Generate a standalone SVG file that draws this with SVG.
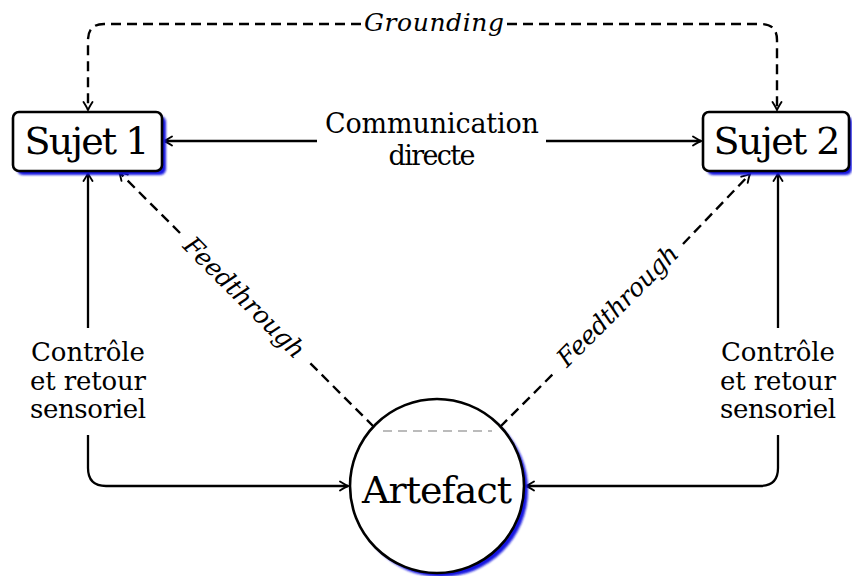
<svg xmlns="http://www.w3.org/2000/svg" width="852" height="576" viewBox="0 0 852 576">
<style>
text{font-family:"DejaVu Serif","Liberation Serif",serif;fill:#000}
.big{font-size:38px}
.mid{font-size:27px}
.sm{font-size:26px}
.it{font-size:25px;font-style:italic}
.ln{fill:none;stroke:#000;stroke-width:2.3}
.dash{fill:none;stroke:#000;stroke-width:2.4;stroke-dasharray:10 6}
.box{fill:#fff;stroke:#000;stroke-width:2.6}
.shadow{fill:#1515e0;filter:url(#blur)}
</style>
<defs>
<filter id="blur" x="-20%" y="-20%" width="140%" height="140%"><feGaussianBlur stdDeviation="1.1"/></filter>
<marker id="arr" markerUnits="userSpaceOnUse" orient="auto" refX="0" refY="0" markerWidth="20" markerHeight="20" viewBox="-10 -10 20 20" overflow="visible">
<path d="M-8,-4.5 Q-2.5,-1 0,0 Q-2.5,1 -8,4.5" fill="none" stroke="#000" stroke-width="1.9" stroke-linecap="round" stroke-dasharray="none"/>
</marker>
</defs>

<g id="connectors">
<!-- Grounding -->
<path class="dash" d="M361,24 H104 Q88,24 88,40 V110" marker-end="url(#arr)"/>
<path class="dash" d="M507,24 H761 Q777,24 777,40 V110" marker-end="url(#arr)"/>
<text class="it" x="434" y="31" text-anchor="middle" textLength="140">Grounding</text>
<!-- Communication directe -->
<path class="ln" d="M317,141 H164" marker-end="url(#arr)"/>
<path class="ln" d="M546,141 H701" marker-end="url(#arr)"/>
<text class="mid" x="432" y="133" text-anchor="middle" textLength="214">Communication</text>
<text class="mid" x="432" y="165" text-anchor="middle" textLength="87">directe</text>
<!-- Controle left -->
<path class="ln" d="M88,328 V173" marker-end="url(#arr)"/>
<path class="ln" d="M88,435 V468 Q88,486 106,486 H348" marker-end="url(#arr)"/>
<text class="sm" x="88" y="361" text-anchor="middle" textLength="114">Contrôle</text>
<text class="sm" x="88" y="390" text-anchor="middle" textLength="116">et retour</text>
<text class="sm" x="88" y="418" text-anchor="middle" textLength="116">sensoriel</text>
<!-- Controle right -->
<path class="ln" d="M778,328 V173" marker-end="url(#arr)"/>
<path class="ln" d="M778,435 V468 Q778,486 760,486 H526" marker-end="url(#arr)"/>
<text class="sm" x="778" y="361" text-anchor="middle" textLength="114">Contrôle</text>
<text class="sm" x="778" y="390" text-anchor="middle" textLength="116">et retour</text>
<text class="sm" x="778" y="418" text-anchor="middle" textLength="116">sensoriel</text>
<!-- Feedthrough left -->
<path class="dash" d="M374,427 L309,362"/>
<path class="dash" d="M180,233 L119,172" marker-end="url(#arr)"/>
<g transform="translate(244,298) rotate(45)"><text class="it" x="0" y="8" text-anchor="middle" textLength="160">Feedthrough</text></g>
<!-- Feedthrough right -->
<path class="dash" d="M500,427 L553,374"/>
<path class="dash" d="M683,244 L750,174" marker-end="url(#arr)"/>
<g transform="translate(618,306) rotate(-45)"><text class="it" x="0" y="8" text-anchor="middle" textLength="160">Feedthrough</text></g>
</g>

<g id="sujet1">
<rect class="shadow" x="17" y="116" width="149" height="59" rx="6"/>
<rect class="box" x="13" y="112" width="149" height="59" rx="6"/>
<text class="big" x="87" y="154" text-anchor="middle" textLength="125">Sujet 1</text>
</g>

<g id="sujet2">
<rect class="shadow" x="707" y="116" width="145" height="59" rx="6"/>
<rect class="box" x="703" y="112" width="146" height="59" rx="6"/>
<text class="big" x="777" y="154" text-anchor="middle" textLength="127">Sujet 2</text>
</g>

<g id="artefact">
<circle class="shadow" cx="441" cy="490" r="87"/>
<circle class="box" cx="437" cy="486" r="87"/>
<line x1="383" y1="431" x2="492" y2="431" stroke="#bbb" stroke-width="2.2" stroke-dasharray="9 6"/>
<text class="big" x="437" y="503" text-anchor="middle" textLength="150">Artefact</text>
</g>
</svg>
